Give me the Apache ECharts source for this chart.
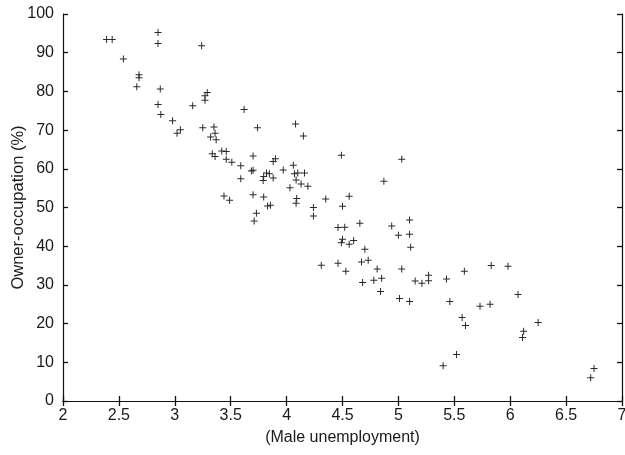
<!DOCTYPE html>
<html><head><meta charset="utf-8">
<script src="https://cdn.jsdelivr.net/npm/echarts@6/dist/echarts.min.js"></script>
<style>html,body{margin:0;padding:0;background:#fff}#c{width:625px;height:455px}</style>
</head><body><div id="c"></div>
<script>
const maleUnemployment = [2.39,2.44,2.85,2.85,3.24,2.54,2.68,2.68,2.66,2.87,2.85,2.875,3.16,3.27,3.27,3.29,3.62,2.98,3.02,3.05,3.25,3.35,3.36,3.32,3.37,3.74,3.335,3.36,3.42,3.46,3.46,3.51,3.59,3.685,3.70,3.70,3.59,3.44,3.49,3.70,4.08,4.15,3.90,3.88,3.79,3.795,3.82,3.846,3.88,3.97,4.06,4.07,4.10,4.16,4.085,4.13,4.19,4.03,3.795,3.83,3.855,4.09,4.085,3.73,3.71,4.24,4.24,4.35,4.49,4.56,4.50,4.46,4.52,4.655,4.49,4.50,4.56,4.60,4.70,4.31,4.46,4.53,4.67,4.73,4.81,5.03,4.87,5.10,4.94,5.00,5.10,5.11,5.03,4.68,4.78,4.85,4.84,5.01,5.10,5.15,5.21,5.27,5.27,5.43,5.59,5.83,5.98,6.07,5.46,5.57,5.73,5.82,5.60,6.25,6.12,6.11,5.52,5.40,6.75,6.72];
const ownerOccupation = [93.4,93.4,95.2,92.4,91.8,88.4,84.3,83.5,81.2,80.6,76.6,74.0,76.3,77.7,78.9,79.7,75.3,72.4,69.2,70.1,70.6,70.8,69.2,68.2,67.5,70.6,63.9,63.2,64.6,64.5,62.5,61.7,60.8,59.4,59.6,63.3,57.4,53.0,51.9,53.3,71.6,68.5,62.6,61.9,57.0,58.0,58.9,58.7,57.6,59.7,60.9,58.7,58.9,58.9,57.1,56.1,55.5,55.1,52.7,50.4,50.6,52.3,51.1,48.5,46.5,50.0,47.8,52.2,63.5,52.9,50.3,44.8,44.9,45.9,40.9,41.8,40.5,41.5,39.2,35.1,35.6,33.5,35.9,36.4,34.1,62.5,56.8,46.8,45.2,42.8,43.1,39.7,34.1,30.6,31.2,31.7,28.3,26.5,25.7,31.0,30.4,32.5,31.1,31.5,33.5,35.0,34.8,27.5,25.7,21.6,24.5,25.0,19.5,20.3,18.0,16.4,12.0,9.1,8.4,6.0];
const xTicks = {min: 2, max: 7, interval: 0.5};
const yTicks = {min: 0, max: 100, interval: 10};

const points = maleUnemployment.map((x, i) => [x, ownerOccupation[i]]);
const font = 'Liberation Sans, Arial, Helvetica, sans-serif';
function axLine() { return {show: true, lineStyle: {color: '#111', width: 1.2}}; }
function axTick() { return {show: true, inside: true, length: 5, lineStyle: {color: '#111', width: 1.3}}; }

const chart = echarts.init(document.getElementById('c'), null, {renderer: 'canvas'});
chart.setOption({
  animation: false,
  backgroundColor: '#fff',
  grid: {left: 63, right: 3, top: 14, bottom: 54, containLabel: false, outerBoundsMode: 'none'},
  xAxis: [
    {type: 'value', min: xTicks.min, max: xTicks.max, interval: xTicks.interval, position: 'bottom',
     name: '(Male unemployment)', nameLocation: 'middle', nameGap: 29, nameMoveOverlap: false,
     nameTextStyle: {fontFamily: font, fontSize: 16, color: '#1a1a1a'},
     axisLine: axLine(), axisTick: axTick(), splitLine: {show: false},
     axisLabel: {show: true, fontFamily: font, fontSize: 16, color: '#1a1a1a', margin: 7}},
    {type: 'value', min: xTicks.min, max: xTicks.max, interval: xTicks.interval, position: 'top',
     axisLine: axLine(), axisTick: axTick(), splitLine: {show: false},
     axisLabel: {show: false}}
  ],
  yAxis: [
    {type: 'value', min: yTicks.min, max: yTicks.max, interval: yTicks.interval, position: 'left',
     name: 'Owner-occupation (%)', nameLocation: 'middle', nameGap: 36, nameMoveOverlap: false,
     nameTextStyle: {fontFamily: font, fontSize: 16.5, color: '#1a1a1a'},
     axisLine: axLine(), axisTick: axTick(), splitLine: {show: false},
     axisLabel: {show: true, fontFamily: font, fontSize: 16, color: '#1a1a1a', margin: 9}},
    {type: 'value', min: yTicks.min, max: yTicks.max, interval: yTicks.interval, position: 'right',
     axisLine: axLine(), axisTick: axTick(), splitLine: {show: false},
     axisLabel: {show: false}}
  ],
  series: [{
    type: 'scatter', xAxisIndex: 0, yAxisIndex: 0,
    data: points,
    symbol: 'path://M3,0h1v3h3v1h-3v3h-1v-3h-3v-1h3z',
    symbolSize: 7,
    itemStyle: {color: '#2a2a2a', opacity: 1}
  }]
});
</script></body></html>
